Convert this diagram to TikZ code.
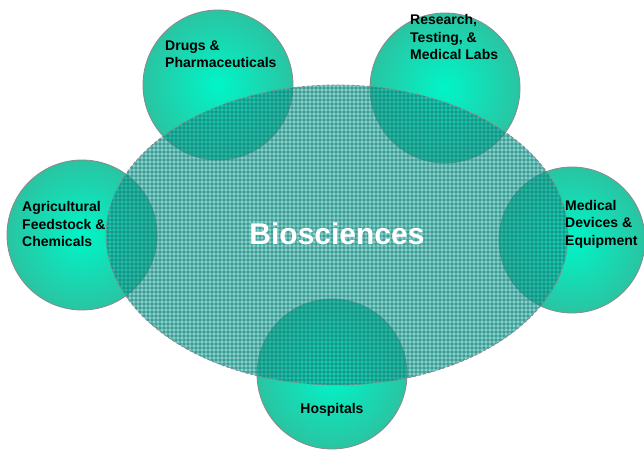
\documentclass[tikz,border=0pt]{standalone}
\usepackage{fontspec}
\setmainfont{Liberation Sans}
\begin{document}
\begin{tikzpicture}[x=1pt,y=-1pt,
  bubble/.style={shading=radial,inner color=bubIn,outer color=bubOut,draw=bubLine,line width=0.8pt},
  lbl/.style={font=\bfseries\fontsize{14}{17.5}\selectfont,align=left,text=black,inner sep=0pt},
  bigl/.style={font=\bfseries\fontsize{30}{34}\selectfont,text=white,inner sep=0pt}]
\definecolor{bubIn}{HTML}{00F5C8}
\definecolor{bubOut}{HTML}{2AC4A2}
\definecolor{bubLine}{HTML}{8A8A8A}
\definecolor{ellFill}{RGB}{40,172,160}
\definecolor{gridCol}{RGB}{8,122,114}
\useasboundingbox[fill=white] (0,0) rectangle (644,449);
% circles
\path[bubble] (218,85) circle[radius=75pt];
\path[bubble] (445,88) circle[radius=75pt];
\path[bubble] (82,235) circle[radius=75pt];
\path[bubble] (572,240) circle[radius=73pt];
\path[bubble] (332,374) circle[radius=75pt];
% ellipse
\coordinate (ec) at (337,235);
\fill[ellFill,opacity=0.55] (ec) ellipse[x radius=231pt,y radius=150pt];
\begin{scope}[transparency group,opacity=0.9]
\clip (ec) ellipse[x radius=231pt,y radius=150pt];
\draw[gridCol,line width=0.9pt,step=4pt] (100,80) grid (572,390);
\end{scope}
\draw[bubLine,line width=0.8pt,dash pattern=on 3pt off 2pt] (ec) ellipse[x radius=231pt,y radius=150pt];
% labels
\node[bigl] (bio) at (337,234) {Biosciences};
\node[lbl,anchor=west] (drugs) at (165,54) {Drugs \&\\Pharmaceuticals};
\node[lbl,anchor=west] (res) at (410,37) {Research,\\Testing, \&\\Medical Labs};
\node[lbl,anchor=west] (agri) at (22,224) {Agricultural\\Feedstock \&\\Chemicals};
\node[lbl,anchor=west] (med) at (565,224) {Medical\\Devices \&\\Equipment};
\node[lbl] (hosp) at (332,410) {Hospitals};
\end{tikzpicture}
\end{document}
